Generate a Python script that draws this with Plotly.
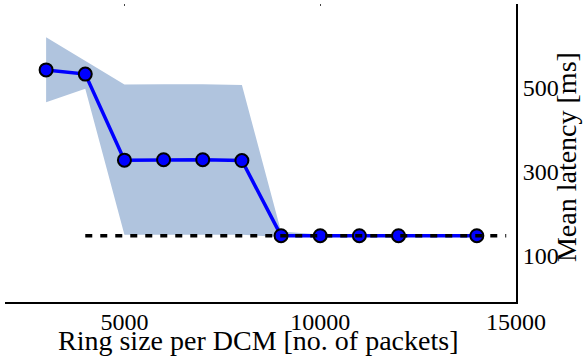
import plotly.graph_objects as go

ring_size = [3000, 4000, 5000, 6000, 7000, 8000, 9000, 10000, 11000, 12000, 14000]
mean_latency = [543, 533, 328, 329, 329, 327, 148, 148, 148, 148, 148]
band_upper = [621, 564, 508, 509, 509, 507, 158, 151, 151, 151, 151]
band_lower = [466, 498, 150, 150, 150, 150, 145, 145, 145, 145, 145]
baseline_x = [4000, 14750]
baseline_y = [148, 148]
x_ticks = [5000, 10000, 15000]
x_tick_labels = ["5000", "10000", "15000"]
y_ticks = [100, 300, 500]
y_tick_labels = ["100", "300", "500"]

FONT = "Liberation Serif"
X_RANGE = [1950, 15000]

fig = go.Figure()
fig.add_trace(go.Scatter(
    x=ring_size + ring_size[::-1],
    y=band_upper + band_lower[::-1],
    fill="toself", fillcolor="#B0C4DE", line=dict(width=0),
    mode="lines", hoverinfo="skip", showlegend=False))
fig.add_trace(go.Scatter(
    x=baseline_x, y=baseline_y, mode="lines", xaxis="x2",
    line=dict(color="black", width=3.5, dash="7px,8px"), showlegend=False))
fig.add_trace(go.Scatter(
    x=ring_size, y=mean_latency, mode="lines+markers",
    line=dict(color="#0000FF", width=3.5),
    marker=dict(size=13, color="#0000FF", line=dict(color="black", width=2)),
    showlegend=False))

fig.update_layout(
    width=585, height=361,
    margin=dict(l=5, r=69, t=4, b=59, autoexpand=False),
    paper_bgcolor="white", plot_bgcolor="white",
    font=dict(family=FONT, size=24, color="black"),
    xaxis=dict(range=X_RANGE, tickvals=x_ticks, ticktext=x_tick_labels,
               showgrid=False, zeroline=False, automargin=False,
               showline=True, linecolor="black", linewidth=2, ticks="",
               ticklabelstandoff=-3),
    xaxis2=dict(range=X_RANGE, overlaying="x", side="top", anchor="y",
                tickvals=x_ticks[:2], ticks="inside", ticklen=2, tickwidth=1,
                tickcolor="#444", showticklabels=False, showline=False,
                showgrid=False, zeroline=False, automargin=False),
    yaxis=dict(range=[-10, 700], tickvals=y_ticks, ticktext=y_tick_labels,
               side="right", showgrid=False, automargin=False,
               zeroline=False, showline=True, linecolor="black", linewidth=2, ticks=""),
    annotations=[
        dict(text="Ring size per DCM [no. of packets]", xref="paper", yref="paper",
             x=0.496, y=-0.13, xanchor="center", yanchor="middle", showarrow=False,
             font=dict(family=FONT, size=28)),
        dict(text="Mean latency [ms]", xref="paper", yref="paper",
             x=1.099, y=0.485, xanchor="center", yanchor="middle", textangle=-90,
             showarrow=False, font=dict(family=FONT, size=28)),
    ],
)
fig.write_html(
    "out.html",
    config={"displayModeBar": False},
    post_script="document.body.style.margin='0';document.body.style.overflow='hidden';",
)
